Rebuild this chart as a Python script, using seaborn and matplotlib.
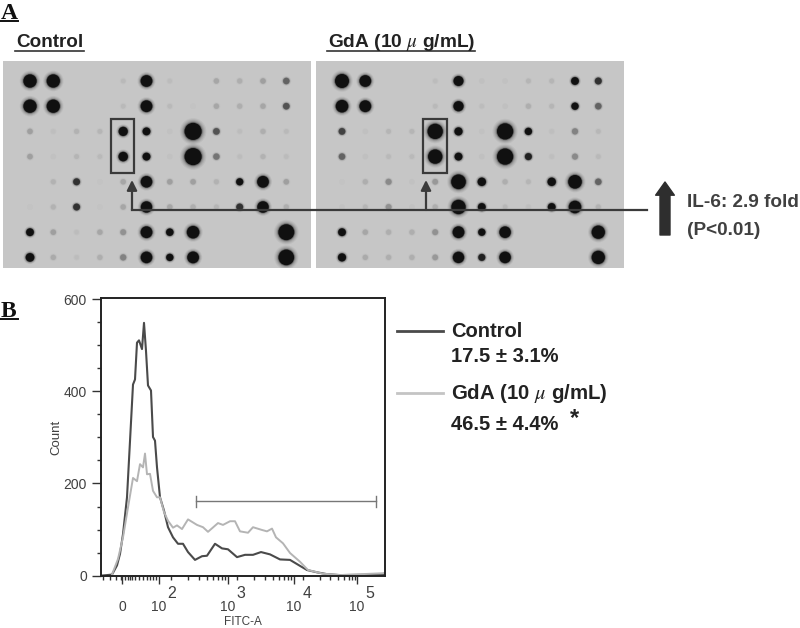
import numpy as np
import pandas as pd
import matplotlib
matplotlib.use('Agg')
import matplotlib.pyplot as plt
import seaborn as sns

# dot blot spot signal, row by row (12 columns, 8 rows)
control_spots = [
    [170, 170, 0, 0, 8, 130, 6, 0, 16, 14, 18, 30],
    [170, 170, 0, 0, 8, 130, 8, 2, 16, 14, 16, 32],
    [18, 5, 12, 10, 75, 50, 3, 290, 32, 6, 14, 8],
    [18, 3, 10, 8, 80, 50, 3, 290, 28, 6, 12, 7],
    [0, 12, 36, 2, 16, 125, 18, 18, 12, 40, 130, 18],
    [2, 12, 36, 2, 16, 120, 16, 14, 10, 36, 125, 14],
    [50, 18, 6, 16, 22, 130, 45, 150, 0, 0, 0, 250],
    [65, 15, 6, 14, 26, 125, 42, 130, 0, 0, 0, 240],
]
gda_spots = [
    [190, 130, 0, 0, 6, 90, 4, 3, 10, 10, 50, 36],
    [150, 130, 0, 0, 8, 95, 6, 4, 14, 10, 42, 30],
    [34, 4, 10, 10, 230, 55, 3, 260, 42, 5, 26, 9],
    [30, 4, 8, 8, 200, 50, 4, 260, 38, 5, 24, 8],
    [2, 14, 24, 3, 20, 210, 60, 14, 10, 60, 180, 30],
    [3, 10, 22, 3, 14, 200, 50, 9, 5, 50, 150, 12],
    [50, 16, 14, 14, 22, 130, 42, 125, 0, 0, 0, 170],
    [55, 15, 14, 14, 20, 120, 38, 125, 0, 0, 0, 170],
]

# histogram curves (channel, count)
control_channel = [1, 11, 16, 19, 22, 26, 29, 32, 34, 36, 38, 41, 43, 45, 47, 50, 52, 54, 56, 59, 63, 67, 72, 77,
                   82, 87, 94, 101, 106, 114, 121, 127, 136, 144, 152, 160, 169, 179, 189, 199, 206, 216, 226,
                   239, 282, 284]
control_count = [0, 2, 22, 47, 90, 170, 292, 415, 426, 506, 511, 492, 549, 488, 413, 402, 301, 293, 235, 170, 141,
                 105, 83, 69, 69, 51, 34, 42, 43, 69, 59, 57, 40, 45, 45, 51, 46, 35, 34, 21, 12, 7, 3, 1, 2, 4]
gda_channel = [11, 17, 22, 27, 32, 36, 39, 42, 44, 46, 49, 52, 56, 59, 63, 67, 72, 76, 81, 87, 96, 102, 107, 117,
               122, 129, 134, 139, 147, 152, 161, 166, 171, 175, 182, 189, 199, 207, 222, 239, 282, 284]
gda_count = [2, 36, 83, 148, 212, 205, 242, 235, 265, 220, 221, 184, 170, 170, 138, 119, 104, 109, 101, 122, 110,
             105, 95, 114, 110, 118, 118, 96, 93, 105, 99, 96, 102, 83, 70, 49, 30, 12, 4, 1, 5, 6]

x_ticks = [21, 58, 127, 193, 256]
x_tick_labels = ['0', '10', '10', '10', '10']
x_tick_powers = ['', '2', '3', '4', '5']
x_minor = [2, 9, 15, 20, 24, 27, 29, 31, 34, 38, 42, 46, 49, 52, 55, 70, 87, 98, 106, 112, 117, 121, 124,
           136, 153, 164, 172, 178, 183, 187, 190, 202, 219, 229, 237, 243, 248, 251, 254]
y_ticks = [0, 200, 400, 600]
y_minor = [50, 100, 150, 250, 300, 350, 450, 500, 550]

W, H = 800, 628
DARK = '#3a3a3a'
TEXT = '#404040'
BLOT_BG = '#c6c6c6'

plt.rcParams['font.family'] = ['Liberation Sans', 'DejaVu Sans']
plt.rcParams['mathtext.fontset'] = 'stix'

fig = plt.figure(figsize=(W / 100, H / 100), dpi=100)


def px_axes(x0, y0, x1, y1, **kw):
    return fig.add_axes([x0 / W, 1 - y1 / H, (x1 - x0) / W, (y1 - y0) / H], **kw)


def draw_blot(x0, first_col, spots):
    ax = px_axes(x0, 61, x0 + 308, 268, facecolor=BLOT_BG)
    rows, cols = np.nonzero(np.array(spots))
    df = pd.DataFrame({'row': rows, 'col': cols, 'signal': np.array(spots)[rows, cols]})
    spot_cmap = sns.blend_palette([BLOT_BG, '#b0b0b0', '#808080', '#101010'], as_cmap=True)
    # soft halos first, then the dark core of each spot
    for scale, alpha in [(2.4, 0.05), (2.0, 0.07), (1.65, 0.1), (1.35, 0.18), (1.15, 0.35), (1.0, 1.0)]:
        sns.scatterplot(data=df, x='col', y='row', hue='signal', size='signal', palette=spot_cmap,
                        hue_norm=(0, 40), size_norm=(0, 400), sizes=(6 * scale, 207 * scale),
                        linewidth=0, alpha=alpha, legend=False, ax=ax)
    ax.set_xlim((x0 - first_col) / 23.3, (x0 + 308 - first_col) / 23.3)
    ax.set_ylim((268 - 81) / 25.2, (61 - 81) / 25.2)
    ax.axis('off')
    ax.add_patch(plt.Rectangle((0, 0), 1, 1, transform=ax.transAxes, color=BLOT_BG, zorder=0))


draw_blot(3, 30, control_spots)
draw_blot(316, 342, gda_spots)

# flow cytometry histogram
ax = px_axes(101, 298, 385, 576)
sns.lineplot(x=control_channel, y=control_count, sort=False, estimator=None, color='#4a4a4a', linewidth=1.5, ax=ax)
sns.lineplot(x=gda_channel, y=gda_count, sort=False, estimator=None, color='#b4b4b4', linewidth=1.4, ax=ax)
ax.set_xlim(0, 284)
ax.set_ylim(-1, 603)
for side in ax.spines.values():
    side.set_linewidth(1.4)
    side.set_color('#222222')
ax.set_xticks(x_ticks, x_tick_labels)
ax.set_xticks(x_minor, minor=True)
ax.set_yticks(y_ticks)
ax.set_yticks(y_minor, minor=True)
ax.tick_params(axis='y', which='major', length=6.7, width=1, color='#333333', labelcolor=TEXT, labelsize=10)
ax.tick_params(axis='y', which='minor', length=3, width=1, color='#333333')
ax.tick_params(axis='x', which='major', length=6, width=1, pad=11, color='#333333', labelcolor=TEXT, labelsize=10)
ax.tick_params(axis='x', which='minor', length=3, width=1, color='#333333')
ax.set_xlabel('FITC-A', fontsize=8.5, color=TEXT, labelpad=1.5)
ax.set_ylabel('Count', fontsize=9.5, color=TEXT, labelpad=1)
for tick, power in zip(x_ticks, x_tick_powers):
    if power:
        ax.annotate(power, xy=(tick, 0), xycoords=('data', 'axes fraction'), xytext=(6, -18),
                    textcoords='offset points', fontsize=11.5, color=TEXT, va='bottom')
# gate marker
ax.plot([95, 275], [161, 161], color='#777777', lw=1)
ax.plot([95, 95], [150, 172], color='#777777', lw=1)
ax.plot([275, 275], [150, 172], color='#777777', lw=1)

# annotation layer in pixel coordinates
top = px_axes(0, 0, W, H, facecolor='none')
top.set_xlim(0, W)
top.set_ylim(H, 0)
top.axis('off')

top.text(1, 19, 'A', family='Liberation Serif', weight='bold', fontsize=17, color='#111111')
top.plot([0, 18], [21, 21], color='#111111', lw=1.4)
top.text(1, 317, 'B', family='Liberation Serif', weight='bold', fontsize=17, color='#111111')
top.plot([0, 18], [319, 319], color='#111111', lw=1.4)

top.text(16, 47, 'Control', weight='bold', fontsize=13.6, color='#222222')
top.plot([15, 84], [51, 51], color='#333333', lw=1.2)
top.text(328, 47, 'GdA (10 $\\mu$ g/mL)', weight='bold', fontsize=13.8, color='#222222')
top.plot([327, 475], [51, 51], color='#333333', lw=1.2)

# boxes and connector
top.add_patch(plt.Rectangle((111, 119), 23, 54, fill=False, edgecolor=DARK, lw=1.6))
top.add_patch(plt.Rectangle((423, 119), 24, 54, fill=False, edgecolor=DARK, lw=1.6))
top.plot([132, 647], [210, 210], color=DARK, lw=1.6)
for x in [132, 426]:
    top.annotate('', xy=(x, 180), xytext=(x, 210),
                 arrowprops=dict(arrowstyle='-|>', color=DARK, lw=1.6, mutation_scale=15, shrinkA=0, shrinkB=0))

# big arrow
top.annotate('', xy=(665, 182), xytext=(665, 235),
             arrowprops=dict(width=7.2, headwidth=13.5, headlength=9.5, color='#2e2e2e', shrink=0))
top.text(687, 207, 'IL-6: 2.9 fold', weight='bold', fontsize=13.7, color=TEXT)
top.text(687, 235, '(P<0.01)', weight='bold', fontsize=13.7, color=TEXT)

# legend
top.plot([397, 443], [331, 331], color='#4a4a4a', lw=2)
top.text(451, 337, 'Control', weight='bold', fontsize=14.5, color='#222222')
top.text(451, 362, '17.5 ± 3.1%', weight='bold', fontsize=14.5, color='#222222')
top.plot([397, 443], [393, 393], color='#c4c4c4', lw=2)
top.text(451, 399, 'GdA (10 $\\mu$ g/mL)', weight='bold', fontsize=14.7, color='#222222')
top.text(451, 430, '46.5 ± 4.4%', weight='bold', fontsize=14.5, color='#222222')
top.text(570, 425, '*', weight='bold', fontsize=17, color='#222222')

fig.savefig('out.png', dpi=100, facecolor='white')
